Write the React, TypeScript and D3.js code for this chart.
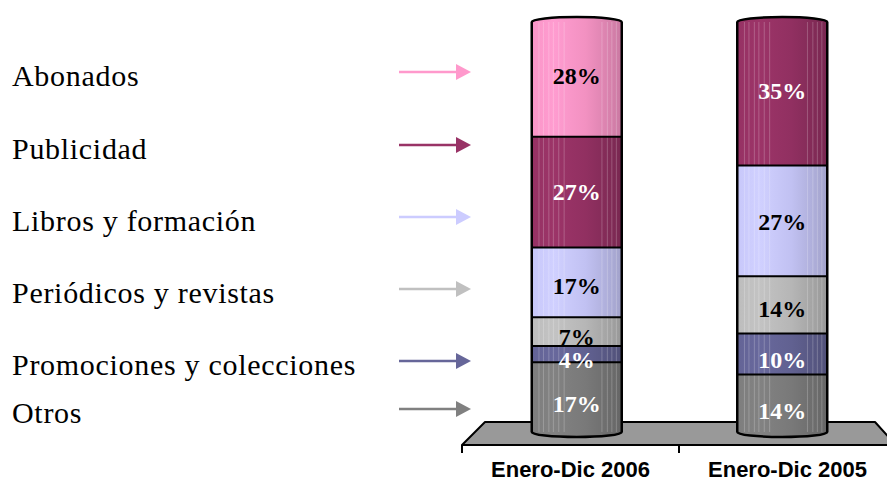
import * as d3 from "d3";

// series, bottom of the stack first
const seriesNames = [
  "Otros",
  "Promociones y colecciones",
  "Periódicos y revistas",
  "Libros y formación",
  "Publicidad",
  "Abonados",
];
const categories = ["Enero-Dic 2006", "Enero-Dic 2005"];
const values2006 = [17, 4, 7, 17, 27, 28];
const values2005 = [14, 10, 14, 27, 35, 0];
const seriesColors = ["#808080", "#666699", "#C0C0C0", "#CCCCFF", "#993366", "#FF99CC"];
const labelColors = ["#fff", "#fff", "#000", "#000", "#fff", "#000"];

// legend rows, top to bottom (arrow heights picked off the original)
const legendOrder = [5, 4, 3, 2, 1, 0];
const legendArrowY = [72, 145, 217, 289, 361, 409];

const W = 887;
const H = 483;
const RX = 45;
const RY = 5;
const FLOOR_TOP = 422;
const FLOOR_BOTTOM = 445;
const stripes = [0.08, 0.13, 0.19, 0.24, 0.3, 0.36, 0.78, 0.84, 0.89, 0.94];

export default function App() {
  const valuesByCat = [values2006, values2005];
  const rows = categories.map((c, i) => {
    const r: Record<string, any> = { cat: c };
    seriesNames.forEach((s, j) => (r[s] = valuesByCat[i][j]));
    return r;
  });
  const stacked = d3.stack<any>().keys(seriesNames)(rows);

  const y = d3.scaleLinear().domain([0, 100]).range([432, 22]);
  // labels sit a little off the segment middle in the 3d original
  const yLabel = d3.scaleLinear().domain([0, 100]).range([440, 16]);
  const xBar = d3.scalePoint<string>().domain(categories).range([474, 885]).padding(0.5);
  const xAxis = d3.scaleBand<string>().domain(categories).range([462, 896]);

  const floor = [
    [xAxis.range()[0], FLOOR_BOTTOM],
    [xAxis.range()[0] + 23, FLOOR_TOP],
    [xAxis.range()[1] - 21, FLOOR_TOP],
    [xAxis.range()[1], FLOOR_BOTTOM],
  ];
  const ticks = [...categories.map((c) => xAxis(c) as number), xAxis.range()[1]];

  return (
    <svg
      width={W}
      height={H}
      style={{ position: "absolute", left: 0, top: 0, background: "#fff" }}
    >
      <defs>
        {seriesColors.map((c, i) => {
          const base = d3.color(c)!;
          return (
            <linearGradient key={i} id={`g${i}`} x1="0" x2="1" y1="0" y2="0">
              <stop offset="0%" stopColor={base.darker(0.05).formatHex()} />
              <stop offset="25%" stopColor={base.brighter(0.05).formatHex()} />
              <stop offset="60%" stopColor={base.darker(0.15).formatHex()} />
              <stop offset="100%" stopColor={base.darker(0.65).formatHex()} />
            </linearGradient>
          );
        })}
      </defs>

      {/* legend */}
      {legendOrder.map((si, k) => {
        const ay = legendArrowY[k];
        const col = seriesColors[si];
        return (
          <g key={si}>
            <text
              x={12}
              y={ay + 14}
              fontFamily="'Liberation Serif', 'Times New Roman', serif"
              fontSize={30}
              letterSpacing={0.7}
              fill="#000"
            >
              {seriesNames[si]}
            </text>
            <line x1={399} x2={458} y1={ay} y2={ay} stroke={col} strokeWidth={2.5} />
            <path d={`M456,${ay - 8}L471,${ay}L456,${ay + 8}Z`} fill={col} />
          </g>
        );
      })}

      {/* floor */}
      <polygon
        points={floor.map((p) => p.join(",")).join(" ")}
        fill="#999999"
        stroke="#000"
        strokeWidth={2}
        strokeLinejoin="round"
      />
      {ticks.map((t, i) => (
        <line key={i} x1={t} x2={t} y1={FLOOR_BOTTOM} y2={FLOOR_BOTTOM + 8} stroke="#000" strokeWidth={2} />
      ))}
      {categories.map((c) => (
        <text
          key={c}
          x={(xAxis(c) as number) + xAxis.bandwidth() / 2}
          y={477}
          textAnchor="middle"
          fontFamily="'Liberation Sans', Arial, sans-serif"
          fontWeight="bold"
          fontSize={22}
          fill="#000"
        >
          {c}
        </text>
      ))}

      {/* cylinders */}
      {categories.map((c, ci) => {
        const cx = xBar(c) as number;
        const left = cx - RX;
        const right = cx + RX;
        const segs = stacked
          .map((s, si) => ({ si, y0: s[ci][0], y1: s[ci][1] }))
          .filter((d) => d.y1 - d.y0 > 0);
        const first = segs[0];
        const last = segs[segs.length - 1];
        const top = y(last.y1);
        const bottom = y(first.y0);
        return (
          <g key={c}>
            {segs.map((d) => {
              const yt = y(d.y1);
              const yb = y(d.y0);
              const bot = d === first ? `A${RX},${RY} 0 0 0 ${right},${yb}` : `L${right},${yb}`;
              const tp = d === last ? `A${RX},${RY} 0 0 0 ${left},${yt}` : `L${left},${yt}`;
              return (
                <path
                  key={d.si}
                  d={`M${left},${yt}L${left},${yb}${bot}L${right},${yt}${tp}Z`}
                  fill={`url(#g${d.si})`}
                />
              );
            })}
            {stripes.map((f, k) => (
              <line
                key={k}
                x1={left + f * RX * 2}
                x2={left + f * RX * 2}
                y1={top}
                y2={bottom}
                stroke="#fff"
                strokeOpacity={0.22}
                strokeWidth={1}
              />
            ))}
            {segs.slice(1).map((d) => (
              <line key={d.si} x1={left} x2={right} y1={y(d.y0)} y2={y(d.y0)} stroke="#000" strokeWidth={2} />
            ))}
            <path
              d={`M${right},${top}A${RX},${RY} 0 0 0 ${left},${top}L${left},${bottom}A${RX},${RY} 0 0 0 ${right},${bottom}Z`}
              fill="none"
              stroke="#000"
              strokeWidth={2.5}
            />
            {segs.map((d) => (
              <text
                key={d.si}
                x={cx}
                y={yLabel((d.y0 + d.y1) / 2)}
                dy="0.35em"
                textAnchor="middle"
                fontFamily="'Liberation Serif', 'Times New Roman', serif"
                fontWeight="bold"
                fontSize={24}
                fill={labelColors[d.si]}
              >
                {`${d.y1 - d.y0}%`}
              </text>
            ))}
          </g>
        );
      })}
    </svg>
  );
}
